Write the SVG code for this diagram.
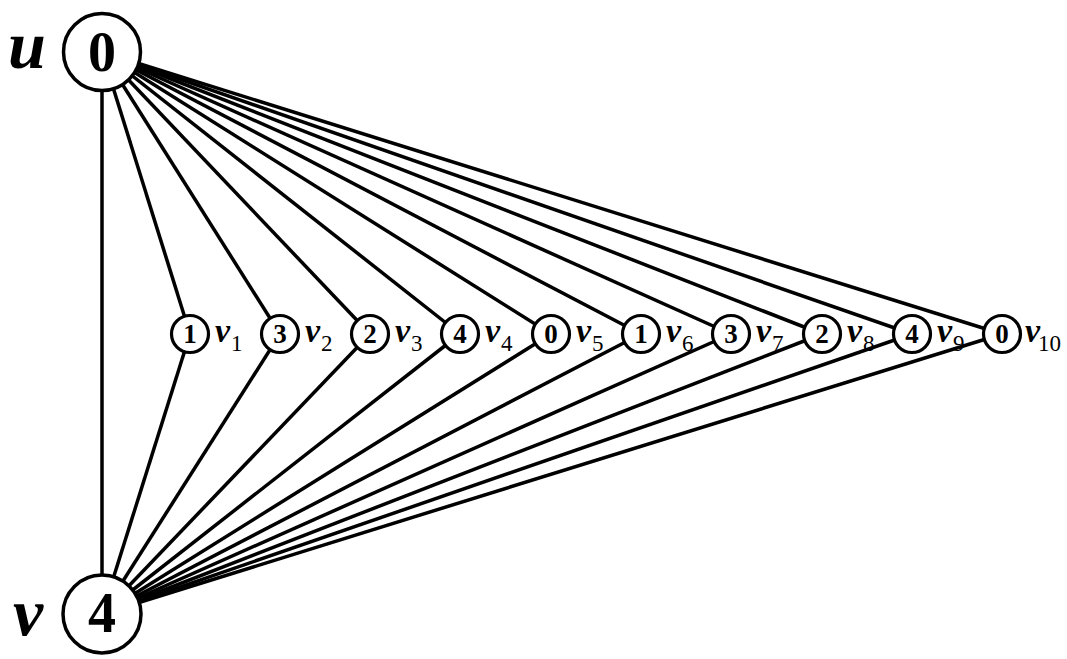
<svg xmlns="http://www.w3.org/2000/svg" width="1067" height="659" viewBox="0 0 1067 659">
<style>
.e{stroke:#000;stroke-width:3.5;fill:none}
.big{fill:#fff;stroke:#000;stroke-width:3.5}
.sm{fill:#fff;stroke:#000;stroke-width:3.2}
.bd{font-family:"Liberation Serif",serif;font-weight:bold;text-anchor:middle;fill:#000}
.bn{font-size:56px}
.sn{font-size:27px}
.lab{font-family:"Liberation Serif",serif;font-style:italic;font-weight:bold;fill:#000;font-size:34px}
.sub{font-size:23px;font-style:normal;font-weight:normal}
.ul{font-family:"Liberation Serif",serif;font-style:italic;font-weight:bold;font-size:68px;fill:#000}
</style>
<rect width="1067" height="659" fill="#fff"/>
<g id="connectors">
<line class="e" x1="102" y1="52" x2="102" y2="614"/>
<line class="e" x1="102" y1="52" x2="190" y2="334"/>
<line class="e" x1="102" y1="52" x2="280" y2="334"/>
<line class="e" x1="102" y1="52" x2="370" y2="334"/>
<line class="e" x1="102" y1="52" x2="460" y2="334"/>
<line class="e" x1="102" y1="52" x2="551" y2="334"/>
<line class="e" x1="102" y1="52" x2="641" y2="334"/>
<line class="e" x1="102" y1="52" x2="731" y2="334"/>
<line class="e" x1="102" y1="52" x2="822" y2="334"/>
<line class="e" x1="102" y1="52" x2="912" y2="334"/>
<line class="e" x1="102" y1="52" x2="1002" y2="334"/>
<line class="e" x1="102" y1="614" x2="190" y2="334"/>
<line class="e" x1="102" y1="614" x2="280" y2="334"/>
<line class="e" x1="102" y1="614" x2="370" y2="334"/>
<line class="e" x1="102" y1="614" x2="460" y2="334"/>
<line class="e" x1="102" y1="614" x2="551" y2="334"/>
<line class="e" x1="102" y1="614" x2="641" y2="334"/>
<line class="e" x1="102" y1="614" x2="731" y2="334"/>
<line class="e" x1="102" y1="614" x2="822" y2="334"/>
<line class="e" x1="102" y1="614" x2="912" y2="334"/>
<line class="e" x1="102" y1="614" x2="1002" y2="334"/>
</g>
<g id="u">
<circle class="big" cx="102" cy="52" r="38.5"/>
<text class="bd bn" x="102" y="71">0</text>
<text class="ul" x="8" y="68">u</text>
</g>
<g id="v">
<circle class="big" cx="102" cy="614" r="39"/>
<text class="bd bn" x="102" y="632">4</text>
<text class="ul" x="13" y="635">v</text>
</g>
<g id="v1"><circle class="sm" cx="190" cy="334" r="18.5"/><text class="bd sn" x="190" y="343">1</text><text class="lab" x="215" y="342">v<tspan class="sub" dx="1" dy="9">1</tspan></text></g>
<g id="v2"><circle class="sm" cx="280" cy="334" r="18.5"/><text class="bd sn" x="280" y="343">3</text><text class="lab" x="305" y="342">v<tspan class="sub" dx="1" dy="9">2</tspan></text></g>
<g id="v3"><circle class="sm" cx="370" cy="334" r="18.5"/><text class="bd sn" x="370" y="343">2</text><text class="lab" x="395" y="342">v<tspan class="sub" dx="1" dy="9">3</tspan></text></g>
<g id="v4"><circle class="sm" cx="460" cy="334" r="18.5"/><text class="bd sn" x="460" y="343">4</text><text class="lab" x="485" y="342">v<tspan class="sub" dx="1" dy="9">4</tspan></text></g>
<g id="v5"><circle class="sm" cx="551" cy="334" r="18.5"/><text class="bd sn" x="551" y="343">0</text><text class="lab" x="576" y="342">v<tspan class="sub" dx="1" dy="9">5</tspan></text></g>
<g id="v6"><circle class="sm" cx="641" cy="334" r="18.5"/><text class="bd sn" x="641" y="343">1</text><text class="lab" x="666" y="342">v<tspan class="sub" dx="1" dy="9">6</tspan></text></g>
<g id="v7"><circle class="sm" cx="731" cy="334" r="18.5"/><text class="bd sn" x="731" y="343">3</text><text class="lab" x="756" y="342">v<tspan class="sub" dx="1" dy="9">7</tspan></text></g>
<g id="v8"><circle class="sm" cx="822" cy="334" r="18.5"/><text class="bd sn" x="822" y="343">2</text><text class="lab" x="847" y="342">v<tspan class="sub" dx="1" dy="9">8</tspan></text></g>
<g id="v9"><circle class="sm" cx="912" cy="334" r="18.5"/><text class="bd sn" x="912" y="343">4</text><text class="lab" x="937" y="342">v<tspan class="sub" dx="1" dy="9">9</tspan></text></g>
<g id="v10"><circle class="sm" cx="1002" cy="334" r="18.5"/><text class="bd sn" x="1002" y="343">0</text><text class="lab" x="1025" y="342">v<tspan class="sub" dx="-2" dy="9">10</tspan></text></g>
</svg>
